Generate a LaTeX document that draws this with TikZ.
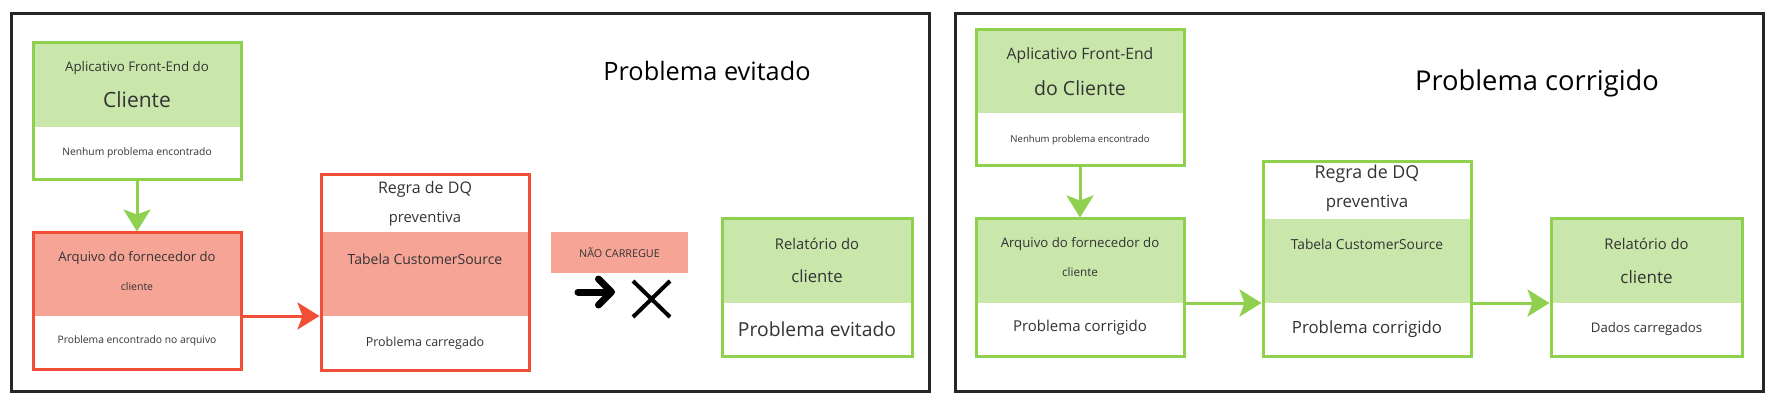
\documentclass[tikz,border=0pt]{standalone}
\usepackage{fontspec}
\setmainfont{Open Sans}
\usetikzlibrary{arrows.meta}
\definecolor{okline}{HTML}{8FD14F}
\definecolor{okfill}{HTML}{C9E7AA}
\definecolor{badline}{HTML}{F04E37}
\definecolor{badfill}{HTML}{F5A496}
\definecolor{ink}{HTML}{333333}
\tikzset{
  frame/.style={draw=black!85, line width=3pt},
  okbox/.style={draw=okline, line width=3pt, inner sep=0pt},
  badbox/.style={draw=badline, line width=3pt, inner sep=0pt},
  txt/.style={text=ink, inner sep=0pt, font=\fontsize{#1}{#1}\selectfont},
  okarrow/.style={draw=okline, line width=3pt, -{Stealth[length=22pt, width=27pt, inset=5pt]}},
  badarrow/.style={draw=badline, line width=3pt, -{Stealth[length=22pt, width=27pt, inset=5pt]}},
}
\begin{document}
\begin{tikzpicture}[x=1pt, y=-1pt]
\useasboundingbox[fill=white] (0,0) rectangle (1786,414);

% painel esquerdo
\draw[frame] (11,14) rectangle (929,391);
\fill[okfill] (33,43) rectangle (241,127);
\fill[badfill] (33,233) rectangle (241,316);
\fill[badfill] (321,232) rectangle (529,316);
\fill[okfill] (722,219) rectangle (912,303);
\node[okbox, minimum width=208, minimum height=137] (frontA) at (137,111.5) {};
\node[badbox, minimum width=208, minimum height=136] (arquivoA) at (137,301) {};
\node[badbox, minimum width=208, minimum height=195] (regraA) at (425,272.5) {};
\node[okbox, minimum width=190, minimum height=137] (relatorioA) at (817,287.5) {};

\node[txt=13.3] (frontA1) at (137,68) {Aplicativo Front-End do};
\node[txt=21] (frontA2) at (137,100) {Cliente};
\node[txt=10.3] (frontA3) at (137,153) {Nenhum problema encontrado};
\node[txt=13.1] (arquivoA1) at (137,258) {Arquivo do fornecedor do};
\node[txt=10.5] (arquivoA2) at (137,287) {cliente};
\node[txt=10.3] (arquivoA3) at (137,341) {Problema encontrado no arquivo};
\node[txt=16] (regraA1) at (425,189) {Regra de DQ};
\node[txt=14.8] (regraA2) at (425,219) {preventiva};
\node[txt=14] (regraA3) at (425,259) {Tabela CustomerSource};
\node[txt=12.5] (regraA4) at (425,343) {Problema carregado};
\node[txt=14.8] (relatorioA1) at (817,244) {Relatório do};
\node[txt=16.7] (relatorioA2) at (817,276) {cliente};
\node[txt=19.3] (relatorioA3) at (817,329) {Problema evitado};
\node[txt=25.3, text=black] (tituloA) at (707,71) {Problema evitado};

\node[fill=badfill, minimum width=137, minimum height=41, txt=10.8] (parar) at (619.5,252.5) {NÃO CARREGUE};
\coordinate (pararL) at (578,292);
\coordinate (pararR) at (615,292);
\draw[line width=7pt, line cap=round, -{Straight Barb[round, length=13pt, width=26pt]}] (pararL) -- (pararR);
\draw[line width=4pt] (633,281) -- (670,317) (633,317) -- (670,281);

\coordinate (juntaA) at (0,316);
\draw[okarrow] (frontA.south) -- (arquivoA.north);
\draw[badarrow] (arquivoA.east |- juntaA) -- (regraA.west |- juntaA);

% painel direito
\draw[frame] (955,14) rectangle (1763,391);
\fill[okfill] (976,30) rectangle (1184,113);
\fill[okfill] (976,219) rectangle (1184,303);
\fill[okfill] (1263,219) rectangle (1471,303);
\fill[okfill] (1551,219) rectangle (1742,303);
\node[okbox, minimum width=208, minimum height=136] (frontB) at (1080,98) {};
\node[okbox, minimum width=208, minimum height=137] (arquivoB) at (1080,287.5) {};
\node[okbox, minimum width=208, minimum height=194] (regraB) at (1367,259) {};
\node[okbox, minimum width=191, minimum height=137] (relatorioB) at (1646.5,287.5) {};

\node[txt=15.7] (frontB1) at (1080,55) {Aplicativo Front-End};
\node[txt=19.5] (frontB2) at (1080,88) {do Cliente};
\node[txt=9.6] (frontB3) at (1080,140) {Nenhum problema encontrado};
\node[txt=13.2] (arquivoB1) at (1080,244) {Arquivo do fornecedor do};
\node[txt=11.7] (arquivoB2) at (1080,272) {cliente};
\node[txt=15] (arquivoB3) at (1080,328) {Problema corrigido};
\node[txt=17.8] (regraB1) at (1367,174) {Regra de DQ};
\node[txt=16.9] (regraB2) at (1367,203) {preventiva};
\node[txt=13.8] (regraB3) at (1367,244) {Tabela CustomerSource};
\node[txt=16.8] (regraB4) at (1367,329) {Problema corrigido};
\node[txt=14.8] (relatorioB1) at (1646.5,244) {Relatório do};
\node[txt=17] (relatorioB2) at (1646.5,277) {cliente};
\node[txt=13.2] (relatorioB3) at (1646.5,329) {Dados carregados};
\node[txt=27.3, text=black] (tituloB) at (1537,83) {Problema corrigido};

\coordinate (juntaB) at (0,303);
\draw[okarrow] (frontB.south) -- (arquivoB.north);
\draw[okarrow] (arquivoB.east |- juntaB) -- (regraB.west |- juntaB);
\draw[okarrow] (regraB.east |- juntaB) -- (relatorioB.west |- juntaB);
\end{tikzpicture}
\end{document}
